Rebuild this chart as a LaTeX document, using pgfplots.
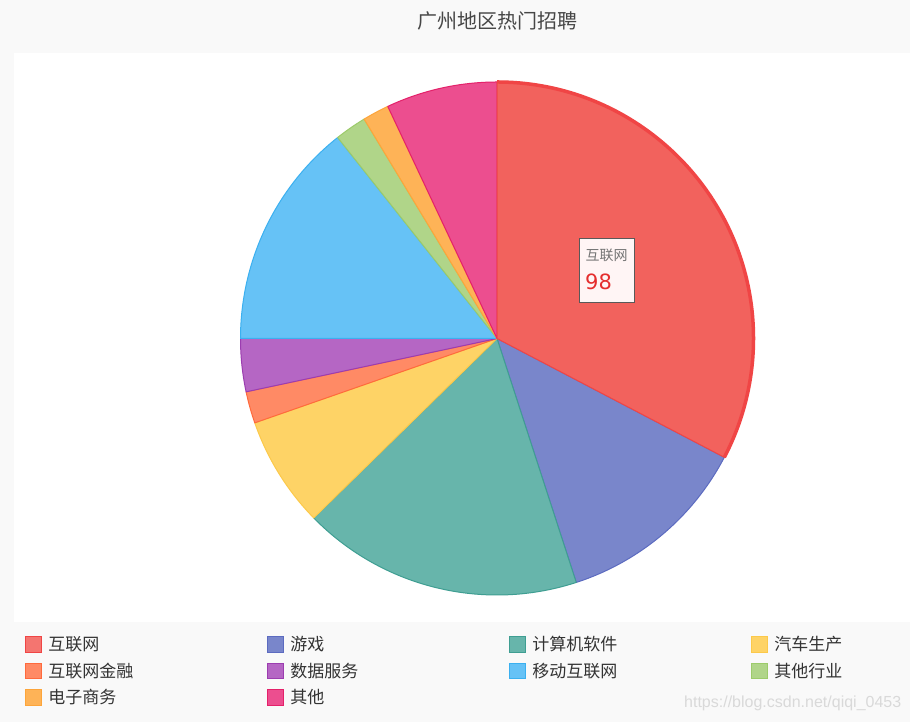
\documentclass[border=0pt]{standalone}
\usepackage{fontspec}
\setmainfont{Noto Sans CJK SC}
\newfontfamily\latfont{Liberation Sans}
\newfontfamily\numfont{DejaVu Sans}
\usepackage{pgfplots}
\usepackage{pgfplotstable}
\pgfplotsset{compat=1.18}

% slice fills (c), slice borders (d), emphasised first slice (e0)
\definecolor{c0}{HTML}{F47570}\definecolor{d0}{HTML}{F04545}\definecolor{e0}{HTML}{F2625D}
\definecolor{c1}{HTML}{7986CB}\definecolor{d1}{HTML}{5C6BC0}
\definecolor{c2}{HTML}{67B5AB}\definecolor{d2}{HTML}{3F9E92}
\definecolor{c3}{HTML}{FED366}\definecolor{d3}{HTML}{FCC94A}
\definecolor{c4}{HTML}{FF8A65}\definecolor{d4}{HTML}{FF6A3D}
\definecolor{c5}{HTML}{B566C4}\definecolor{d5}{HTML}{9C3DB0}
\definecolor{c6}{HTML}{66C2F6}\definecolor{d6}{HTML}{3BB0F0}
\definecolor{c7}{HTML}{B0D589}\definecolor{d7}{HTML}{9CCB6A}
\definecolor{c8}{HTML}{FEB357}\definecolor{d8}{HTML}{FDA53A}
\definecolor{c9}{HTML}{EC4E8F}\definecolor{d9}{HTML}{E4216A}
\definecolor{bg}{HTML}{F9F9F9}
\definecolor{txt}{HTML}{333333}

\pgfplotstableread{
name value
互联网 98
游戏 37
计算机软件 53
汽车生产 21
互联网金融 6
数据服务 10
移动互联网 43
其他行业 6
电子商务 5
其他 21
}\piedata

\begin{document}
\begin{tikzpicture}
\begin{axis}[
  x=1bp, y=1bp,
  xmin=0, xmax=910, ymin=0, ymax=722,
  enlargelimits=false,
  hide axis,
  clip=false,
  legend columns=4,
  legend cell align=left,
  legend image code/.code={\draw[#1, line width=1bp] (0bp,-7.8bp) rectangle (15.6bp,7.8bp);},
  legend style={
    at={(axis cs:25.2,91)}, anchor=north west,
    draw=none, fill=none, inner sep=0pt, outer sep=0pt,
    font=\fontsize{17bp}{20bp}\selectfont, text=txt,
    nodes={inner sep=0pt, text width=120bp, text height=15bp, text depth=2bp,
           minimum height=26.6bp, anchor=west},
    /tikz/every odd column/.style={column sep=6.5bp},
    /tikz/every even column/.style={column sep=98.9bp},
  },
]
\pgfplotsextra{%
  \fill[bg] (axis cs:0,0) rectangle (axis cs:910,722);
  \fill[white] (axis cs:13.7,99.7) rectangle (axis cs:910,669.3);
  \gdef\pietotal{0}%
  \pgfplotstableforeachcolumnelement{value}\of\piedata\as\v{%
    \pgfmathsetmacro\pt{\pietotal+\v}\xdef\pietotal{\pt}}%
  \gdef\piecum{0}%
  \foreach \i in {0,...,9}{%
    \pgfplotstablegetelem{\i}{value}\of\piedata
    \pgfmathsetmacro\sa{90-\piecum/\pietotal*360}%
    \pgfmathsetmacro\pc{\piecum+\pgfplotsretval}%
    \xdef\piecum{\pc}%
    \pgfmathsetmacro\ea{90-\piecum/\pietotal*360}%
    \ifnum\i=0
      \xdef\redsa{\sa}\xdef\redea{\ea}%
    \else
      \filldraw[fill=c\i, draw=d\i, line width=1bp, line join=round]
        (axis cs:497,383.5) -- ++(\sa:256.5bp)
        arc[start angle=\sa, end angle=\ea, radius=256.5bp] -- cycle;
    \fi
  }%
  % emphasised slice
  \filldraw[fill=e0, draw=d0, line width=1bp, line join=round]
    (axis cs:497,383.5) -- ++(\redsa:256.5bp)
    arc[start angle=\redsa, end angle=\redea, radius=256.5bp] -- cycle;
  \draw[d0, line width=3.5bp]
    (axis cs:497,383.5) ++(\redsa:256.5bp)
    arc[start angle=\redsa, end angle=\redea, radius=256.5bp];
  % tooltip
  \filldraw[fill=white!96!red, draw=black!65, line width=1bp]
    (axis cs:579.3,483) rectangle (axis cs:634.3,419.7);
  \node[anchor=base west, inner sep=0pt, text=black!55,
        font=\fontsize{14bp}{16bp}\selectfont] at (axis cs:585.3,461.7) {互联网};
  \node[anchor=base west, inner sep=0pt, text=red!80!white!90!black,
        font=\numfont\fontsize{21bp}{24bp}\selectfont] at (axis cs:585,432.7) {98};
  % title
  \node[anchor=base, inner sep=0pt, text=black!72,
        font=\fontsize{20bp}{24bp}\selectfont] at (axis cs:497,693) {广州地区热门招聘};
  % watermark
  \node[anchor=base west, inner sep=0pt, text=black!15,
        font=\latfont\fontsize{16bp}{18bp}\selectfont] at (axis cs:684,14) {https://blog.csdn.net/qiqi\_0453};
}
\pgfplotsinvokeforeach{0,...,9}{\addlegendimage{fill=c#1, draw=d#1}}
\legend{互联网,游戏,计算机软件,汽车生产,互联网金融,数据服务,移动互联网,其他行业,电子商务,其他}
\end{axis}
\end{tikzpicture}
\end{document}
